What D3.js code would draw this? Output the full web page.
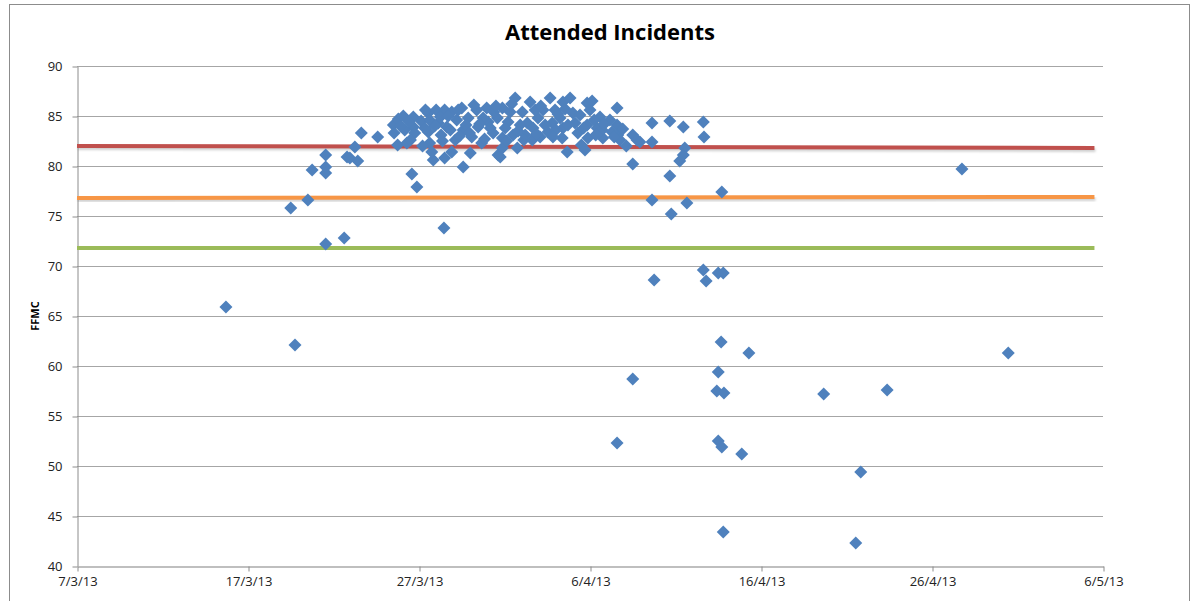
<!DOCTYPE html>
<html>
<head>
<meta charset="utf-8">
<script src="https://cdn.jsdelivr.net/npm/d3@7"></script>
<style>
  html, body { margin: 0; padding: 0; background: #fff; }
  svg { display: block; }
</style>
</head>
<body>
<svg id="chart" width="1196" height="601"></svg>
<script>
// Attended incidents: time of call and FFMC reading
const incidents = [
  ["2013-03-15 17", 65.9], ["2013-03-19 12", 75.8], ["2013-03-19 18", 62.1],
  ["2013-03-20 12", 76.6], ["2013-03-20 18", 79.6], ["2013-03-21 13", 81.1],
  ["2013-03-21 13", 79.9], ["2013-03-21 13", 79.3], ["2013-03-21 13", 72.2],
  ["2013-03-22 15", 72.8], ["2013-03-22 19", 80.9], ["2013-03-22 23", 80.8],
  ["2013-03-23 10", 80.5], ["2013-03-23 06", 81.9], ["2013-03-23 15", 83.3],
  ["2013-03-24 14", 82.9], ["2013-03-25 12", 84.1], ["2013-03-25 13", 83.3],
  ["2013-03-25 19", 84.7], ["2013-03-25 18", 82.1], ["2013-03-26 07", 82.3],
  ["2013-03-26 14", 79.2], ["2013-03-26 21", 77.9], ["2013-03-26 16", 84.9],
  ["2013-03-26 16", 83.9], ["2013-03-26 18", 83.3], ["2013-03-27 03", 84.5],
  ["2013-03-27 13", 85.3], ["2013-03-27 15", 84.6], ["2013-03-27 13", 83.4],
  ["2013-03-27 15", 82.3], ["2013-03-27 20", 80.6], ["2013-03-27 18", 81.4],
  ["2013-03-28 03", 84.3], ["2013-03-28 11", 73.8], ["2013-03-28 12", 85.6],
  ["2013-03-28 15", 83.9], ["2013-03-28 12", 80.8], ["2013-03-28 22", 81.4],
  ["2013-03-28 22", 85.4], ["2013-03-29 05", 84.6], ["2013-03-29 12", 85.8],
  ["2013-03-29 14", 79.9], ["2013-03-29 14", 83.6], ["2013-03-29 21", 84.8],
  ["2013-03-30 00", 81.3], ["2013-03-30 02", 82.9], ["2013-03-30 09", 85.6],
  ["2013-03-30 11", 83.9], ["2013-03-30 16", 82.3], ["2013-03-30 23", 85.8],
  ["2013-03-31 01", 84.4], ["2013-03-31 08", 83.3], ["2013-03-31 15", 81.1],
  ["2013-03-31 14", 84.8], ["2013-03-31 18", 80.9], ["2013-03-31 21", 85.8],
  ["2013-03-31 21", 82.8], ["2013-04-01 15", 86.8], ["2013-04-01 05", 84.4],
  ["2013-04-01 12", 83.1], ["2013-04-01 18", 81.8], ["2013-04-02 01", 85.4],
  ["2013-04-02 12", 86.4], ["2013-04-02 08", 84.3], ["2013-04-02 16", 83.8],
  ["2013-04-03 02", 82.9], ["2013-04-02 15", 82.6], ["2013-04-02 23", 84.8],
  ["2013-04-03 06", 85.6], ["2013-04-03 16", 86.8], ["2013-04-03 19", 84.3],
  ["2013-04-03 13", 83.4], ["2013-04-04 06", 84.8], ["2013-04-04 10", 83.8],
  ["2013-04-04 09", 82.8], ["2013-04-04 16", 81.4], ["2013-04-04 20", 86.8],
  ["2013-04-04 10", 86.4], ["2013-04-05 00", 85.3], ["2013-04-05 03", 84.3],
  ["2013-04-05 07", 83.3], ["2013-04-05 20", 86.3], ["2013-04-06 00", 85.6],
  ["2013-04-05 20", 84.1], ["2013-04-05 21", 82.8], ["2013-04-06 10", 83.8],
  ["2013-04-06 14", 84.9], ["2013-04-06 18", 82.8], ["2013-04-07 14", 85.8],
  ["2013-04-07 15", 83.1], ["2013-04-07 14", 84.1], ["2013-04-07 18", 82.6],
  ["2013-04-06 17", 83.6], ["2013-04-08 12", 83.1], ["2013-04-08 18", 82.6],
  ["2013-04-08 22", 82.4], ["2013-04-08 12", 80.2], ["2013-04-08 12", 58.7],
  ["2013-04-07 14", 52.3], ["2013-04-09 15", 84.3], ["2013-04-09 15", 82.4],
  ["2013-04-09 15", 76.6], ["2013-04-09 18", 68.6], ["2013-04-10 16", 84.5],
  ["2013-04-10 16", 79.0], ["2013-04-10 18", 75.2], ["2013-04-11 11", 83.9],
  ["2013-04-11 13", 81.8], ["2013-04-11 11", 81.1], ["2013-04-11 06", 80.5],
  ["2013-04-11 16", 76.3], ["2013-04-12 15", 84.4], ["2013-04-12 16", 82.9],
  ["2013-04-12 15", 69.6], ["2013-04-12 19", 68.5], ["2013-04-13 12", 69.3],
  ["2013-04-13 19", 69.3], ["2013-04-13 17", 77.4], ["2013-04-13 16", 62.4],
  ["2013-04-13 12", 59.4], ["2013-04-13 10", 57.5], ["2013-04-13 20", 57.3],
  ["2013-04-13 12", 52.5], ["2013-04-13 17", 51.9], ["2013-04-13 19", 43.4],
  ["2013-04-15 07", 61.3], ["2013-04-14 21", 51.2], ["2013-04-19 16", 57.2],
  ["2013-04-21 13", 42.3], ["2013-04-21 20", 49.4], ["2013-04-23 09", 57.6],
  ["2013-04-27 18", 79.7], ["2013-04-30 11", 61.3],
  ["2013-03-27 09", 85.6], ["2013-03-27 08", 83.8], ["2013-03-28 00", 85.6],
  ["2013-03-28 06", 84.9], ["2013-03-28 07", 83.1], ["2013-03-28 20", 83.6],
  ["2013-03-29 03", 82.6], ["2013-03-29 07", 85.6], ["2013-03-29 18", 84.1],
  ["2013-03-30 05", 86.1], ["2013-03-30 18", 84.8], ["2013-03-31 04", 83.8],
  ["2013-03-31 09", 85.4], ["2013-04-01 01", 83.8], ["2013-04-01 08", 85.4],
  ["2013-04-01 22", 84.1], ["2013-04-02 05", 83.1], ["2013-04-02 19", 85.6],
  ["2013-04-03 09", 84.1], ["2013-04-03 23", 85.6], ["2013-04-04 00", 83.6],
  ["2013-04-04 17", 84.1], ["2013-04-05 10", 85.1], ["2013-04-05 12", 82.1],
  ["2013-04-06 06", 84.6], ["2013-04-06 08", 83.1], ["2013-04-07 04", 84.6],
  ["2013-04-07 07", 83.4], ["2013-03-26 04", 83.6], ["2013-03-31 21", 81.8],
  ["2013-03-25 22", 84.0], ["2013-03-26 02", 85.0], ["2013-03-26 10", 84.4],
  ["2013-03-26 12", 82.6], ["2013-03-27 05", 82.0], ["2013-03-27 22", 84.0],
  ["2013-03-28 09", 82.5], ["2013-03-28 17", 85.0], ["2013-03-29 09", 83.0],
  ["2013-03-29 23", 83.3], ["2013-03-30 13", 84.2], ["2013-03-30 20", 82.7],
  ["2013-03-31 12", 86.0], ["2013-04-01 03", 82.5], ["2013-04-01 10", 86.2],
  ["2013-04-01 19", 83.5], ["2013-04-02 03", 82.6], ["2013-04-02 21", 83.2],
  ["2013-04-03 03", 86.0], ["2013-04-03 20", 82.9], ["2013-04-04 03", 85.2],
  ["2013-04-04 13", 85.7], ["2013-04-05 15", 83.8], ["2013-04-05 17", 81.6],
  ["2013-04-06 03", 86.5], ["2013-04-06 20", 84.2], ["2013-04-07 10", 82.9],
  ["2013-04-07 22", 83.7], ["2013-04-08 03", 82.0]
];

// FFMC threshold trend lines (start and end values)
const thresholdNames = ["High", "Moderate", "Low"];
const thresholdStart = [82.0, 76.8, 71.8];
const thresholdEnd = [81.8, 76.9, 71.8];
const thresholdColors = ["#C0504D", "#F79646", "#9BBB59"];
const thresholdSpan = ["2013-03-07 00", "2013-05-05 12"];

// Axis ticks
const yTicks = [40, 45, 50, 55, 60, 65, 70, 75, 80, 85, 90];
const xTickDates = ["2013-03-07", "2013-03-17", "2013-03-27", "2013-04-06", "2013-04-16", "2013-04-26", "2013-05-06"];

const parseTime = d3.timeParse("%Y-%m-%d %H");
const parseDay = d3.timeParse("%Y-%m-%d");
const fmt = d3.timeFormat("%-d/%-m/%y");

const svg = d3.select("#chart");
const margin = { left: 77, right: 93, top: 66, bottom: 35 };
const W = 1196, H = 601;

// chart area border
svg.append("rect")
  .attr("x", 9.5).attr("y", 4.5)
  .attr("width", 1180).attr("height", 640)
  .attr("fill", "#fff").attr("stroke", "#8c8c8c").attr("stroke-width", 1);

const x = d3.scaleTime()
  .domain([parseDay(xTickDates[0]), parseDay(xTickDates[xTickDates.length - 1])])
  .range([margin.left, W - margin.right]);
const y = d3.scaleLinear().domain([40, 90]).range([H - margin.bottom, margin.top]);

// horizontal gridlines
svg.append("g")
  .selectAll("line")
  .data(yTicks.filter(v => v > 40))
  .join("line")
  .attr("x1", x.range()[0]).attr("x2", x.range()[1])
  .attr("y1", d => Math.round(y(d)) + 0.5).attr("y2", d => Math.round(y(d)) + 0.5)
  .attr("stroke", "#a6a6a6").attr("stroke-width", 1);

// y axis
const yAxis = svg.append("g")
  .attr("transform", `translate(${margin.left + 0.5},0.5)`)
  .call(d3.axisLeft(y).tickValues(yTicks).tickSize(5).tickSizeOuter(0).tickPadding(10));
yAxis.select(".domain").attr("stroke", "#8c8c8c");
yAxis.selectAll(".tick line").attr("stroke", "#8c8c8c");
yAxis.selectAll(".tick text")
  .attr("font-family", "'Open Sans', sans-serif").attr("font-size", 13).attr("fill", "#222");

// x axis
const xAxis = svg.append("g")
  .attr("transform", `translate(0.5,${y(40) + 0.5})`)
  .call(d3.axisBottom(x).tickValues(xTickDates.map(parseDay)).tickFormat(fmt)
    .tickSize(5).tickSizeOuter(0).tickPadding(5));
xAxis.select(".domain").attr("stroke", "#bfbfbf").attr("stroke-width", 2);
xAxis.selectAll(".tick line").attr("stroke", "#8c8c8c");
xAxis.selectAll(".tick text")
  .attr("font-family", "'Open Sans', sans-serif").attr("font-size", 13).attr("fill", "#222");

// threshold lines with a soft shadow
const tData = thresholdNames.map((n, i) => ({
  name: n, c: thresholdColors[i],
  pts: [[parseTime(thresholdSpan[0]), thresholdStart[i]], [parseTime(thresholdSpan[1]), thresholdEnd[i]]]
}));
const line = d3.line().x(d => x(d[0])).y(d => y(d[1]));
const defs = svg.append("defs");
defs.append("filter").attr("id", "sh").attr("x", "-5%").attr("y", "-200%").attr("width", "110%").attr("height", "500%")
  .append("feGaussianBlur").attr("stdDeviation", 1.2);

svg.append("g").selectAll("path")
  .data(tData).join("path")
  .attr("d", d => line(d.pts))
  .attr("transform", "translate(1,2)")
  .attr("stroke", "#000").attr("stroke-opacity", 0.18).attr("stroke-width", 4)
  .attr("fill", "none").attr("filter", "url(#sh)");
svg.append("g").selectAll("path")
  .data(tData).join("path")
  .attr("d", d => line(d.pts))
  .attr("stroke", d => d.c).attr("stroke-width", 4).attr("fill", "none");

// incident markers
const r = 6.5;
svg.append("g").selectAll("path")
  .data(incidents).join("path")
  .attr("transform", d => `translate(${x(parseTime(d[0]))},${y(d[1])})`)
  .attr("d", `M0,${-r}L${r},0L0,${r}L${-r},0Z`)
  .attr("fill", "#4F81BD");

// title
svg.append("text")
  .attr("x", 610).attr("y", 40)
  .attr("text-anchor", "middle")
  .attr("font-family", "'Open Sans', sans-serif").attr("font-weight", "bold").attr("font-size", 22)
  .attr("fill", "#000")
  .text("Attended Incidents");

// y axis title
svg.append("text")
  .attr("transform", `translate(39,${(y(40) + y(90)) / 2}) rotate(-90)`)
  .attr("text-anchor", "middle")
  .attr("font-family", "'Open Sans', sans-serif").attr("font-weight", "bold").attr("font-size", 11)
  .attr("fill", "#000")
  .text("FFMC");
</script>
</body>
</html>
